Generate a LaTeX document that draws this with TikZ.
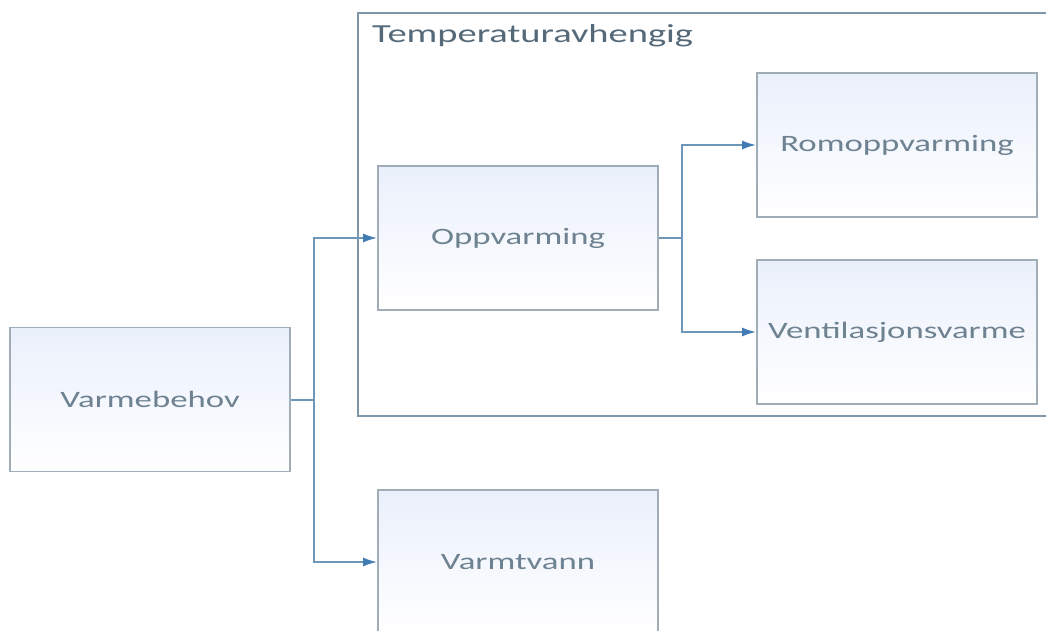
\documentclass[tikz,border=0pt]{standalone}
\usepackage{fontspec}
\usetikzlibrary{arrows.meta}
\newfontfamily\diafont{Carlito}[FakeStretch=1.48]
\definecolor{boxline}{RGB}{160,172,182}
\definecolor{frameline}{RGB}{125,150,170}
\definecolor{wirecol}{RGB}{110,150,185}
\definecolor{tipcol}{RGB}{65,125,180}
\definecolor{boxtext}{RGB}{110,130,145}
\definecolor{titletext}{RGB}{85,105,120}
\definecolor{boxtop}{RGB}{234,240,251}

\begin{document}
\begin{tikzpicture}
  [
    x=1pt, y=-1pt,
    >={Latex[length=14pt,width=9pt,color=tipcol]},
    block/.style = {draw=boxline, line width=1.6pt, top color=boxtop, bottom color=white,
                    minimum width=280pt, minimum height=144pt, inner sep=0pt,
                    text=boxtext, font=\diafont\fontsize{23.5}{28}\selectfont},
    wire/.style  = {draw=wirecol, line width=2pt},
    frame/.style = {draw=frameline, line width=2.4pt},
  ]

 \useasboundingbox (0,0) rectangle (1046,631);

 % group frame, open on the right
 \draw[frame] (1052,13) -- (358,13) -- (358,416) -- (1052,416);
 \node [anchor=base west, inner sep=0pt, text=titletext, font=\diafont\fontsize{26}{30}\selectfont] (temp) at (372,43) {Temperaturavhengig};

 \node [block] (varme) at (150,399.5) {Varmebehov};
 \node [block] (oppv)  at (518,238)   {Oppvarming};
 \node [block] (rom)   at (897,145)   {Romoppvarming};
 \node [block] (vent)  at (897,332)   {Ventilasjonsvarme};
 \node [block] (varmt) at (518,562)   {Varmtvann};

 \coordinate (split) at (314,399.5);
 \coordinate (fork)  at (682,238);

 \draw[wire] (varme.east) -- (split);
 \draw[wire,->] (split) |- (oppv.west);
 \draw[wire,->] (split) |- (varmt.west);
 \draw[wire] (oppv.east) -- (fork);
 \draw[wire,->] (fork) |- (rom.west);
 \draw[wire,->] (fork) |- (vent.west);
%  \draw[help lines] (0,0) grid (1046,631);

\end{tikzpicture}
\end{document}
